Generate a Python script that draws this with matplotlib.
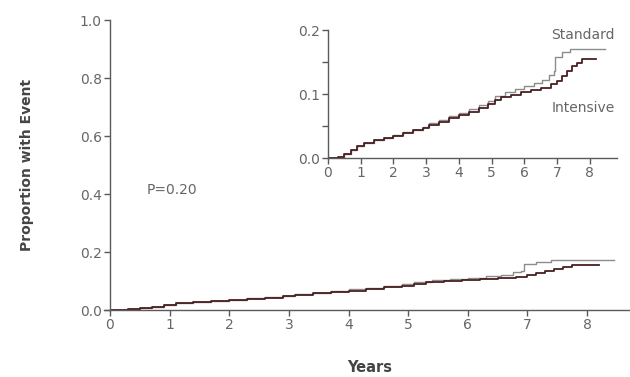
import matplotlib
matplotlib.use("Agg")
import matplotlib.pyplot as plt

# cumulative event proportion, step curves (years, proportion)
intensive_t = [0, 0.3, 0.5, 0.7, 0.9, 1.1, 1.4, 1.7, 2.0, 2.3, 2.6, 2.9, 3.1, 3.4,
               3.7, 4.0, 4.3, 4.6, 4.9, 5.1, 5.3, 5.6, 5.9, 6.2, 6.5, 6.8, 7.0,
               7.15, 7.3, 7.45, 7.6, 7.75, 7.9, 8.2]
intensive_p = [0, 0.002, 0.006, 0.012, 0.018, 0.024, 0.028, 0.031, 0.035, 0.039,
               0.043, 0.047, 0.052, 0.057, 0.062, 0.067, 0.072, 0.078, 0.084,
               0.091, 0.095, 0.099, 0.103, 0.106, 0.110, 0.115, 0.121, 0.128,
               0.136, 0.143, 0.149, 0.154, 0.155, 0.155]
standard_t = [0, 0.3, 0.5, 0.7, 0.9, 1.1, 1.4, 1.7, 2.0, 2.3, 2.6, 2.9, 3.1, 3.4,
              3.7, 4.0, 4.3, 4.6, 4.9, 5.1, 5.4, 5.7, 6.0, 6.3, 6.55, 6.75, 6.9,
              6.95, 7.15, 7.4, 8.45]
standard_p = [0, 0.002, 0.006, 0.012, 0.018, 0.024, 0.028, 0.031, 0.036, 0.040,
              0.044, 0.048, 0.055, 0.060, 0.065, 0.071, 0.077, 0.083, 0.089,
              0.097, 0.103, 0.108, 0.112, 0.117, 0.122, 0.130, 0.136, 0.158,
              0.166, 0.171, 0.171]

main_yticks = [0.0, 0.2, 0.4, 0.6, 0.8, 1.0]
inset_yticks = [0.0, 0.1, 0.2]
year_ticks = [0, 1, 2, 3, 4, 5, 6, 7, 8]
p_value_text = "P=0.20"

axis_col = "#5a5a5a"
text_col = "#666666"
std_col = "#8c8c8c"
int_col = "#4a1f22"


def style_axes(ax, fs):
    for side in ("top", "right"):
        ax.spines[side].set_visible(False)
    for side in ("left", "bottom"):
        ax.spines[side].set_color(axis_col)
        ax.spines[side].set_linewidth(1.0)
    ax.tick_params(direction="out", length=4, width=1, colors=axis_col,
                   labelcolor=text_col, labelsize=fs, pad=2)


fig = plt.figure(figsize=(6.3, 3.77), dpi=100)

# main panel
ax = fig.add_axes([110 / 630, 1 - 310 / 377, 520 / 630, 290 / 377])
ax.plot(standard_t, standard_p, drawstyle="steps-post", color=std_col, lw=1.0)
ax.plot(intensive_t, intensive_p, drawstyle="steps-post", color=int_col, lw=1.3)
ax.set_xlim(0, 8.72)
ax.set_ylim(0, 1.0)
ax.set_xticks(year_ticks)
ax.set_yticks(main_yticks)
ax.set_yticklabels([f"{v:.1f}" for v in main_yticks])
style_axes(ax, 10)
ax.spines["bottom"].set_bounds(-0.1, 8.72)
ax.set_xlabel("Years", fontsize=10.5, fontweight="bold", color="#444444", labelpad=20)
ax.set_ylabel("Proportion with Event", fontsize=10, fontweight="bold",
              color="#444444", labelpad=33)
ax.text(0.62, 0.40, p_value_text, fontsize=10, color=text_col)

# zoomed inset
ins = fig.add_axes([328 / 630, 1 - 158 / 377, 289 / 630, 128 / 377])
ins.plot(standard_t, standard_p, drawstyle="steps-post", color=std_col, lw=1.0)
ins.plot(intensive_t, intensive_p, drawstyle="steps-post", color=int_col, lw=1.3)
ins.set_xlim(0, 8.83)
ins.set_ylim(0, 0.2)
ins.set_xticks(year_ticks)
ins.set_yticks(inset_yticks)
ins.set_yticks([0.05, 0.15], minor=True)
ins.set_yticklabels([f"{v:.1f}" for v in inset_yticks])
ins.patch.set_alpha(0)
style_axes(ins, 10)
ins.tick_params(axis="y", which="minor", direction="out", length=4, width=1,
                colors=axis_col)
ins.text(8.75, 0.186, "Standard", fontsize=10, color=text_col, ha="right")
ins.text(8.75, 0.072, "Intensive", fontsize=10, color=text_col, ha="right")

fig.savefig("out.png", dpi=100)
